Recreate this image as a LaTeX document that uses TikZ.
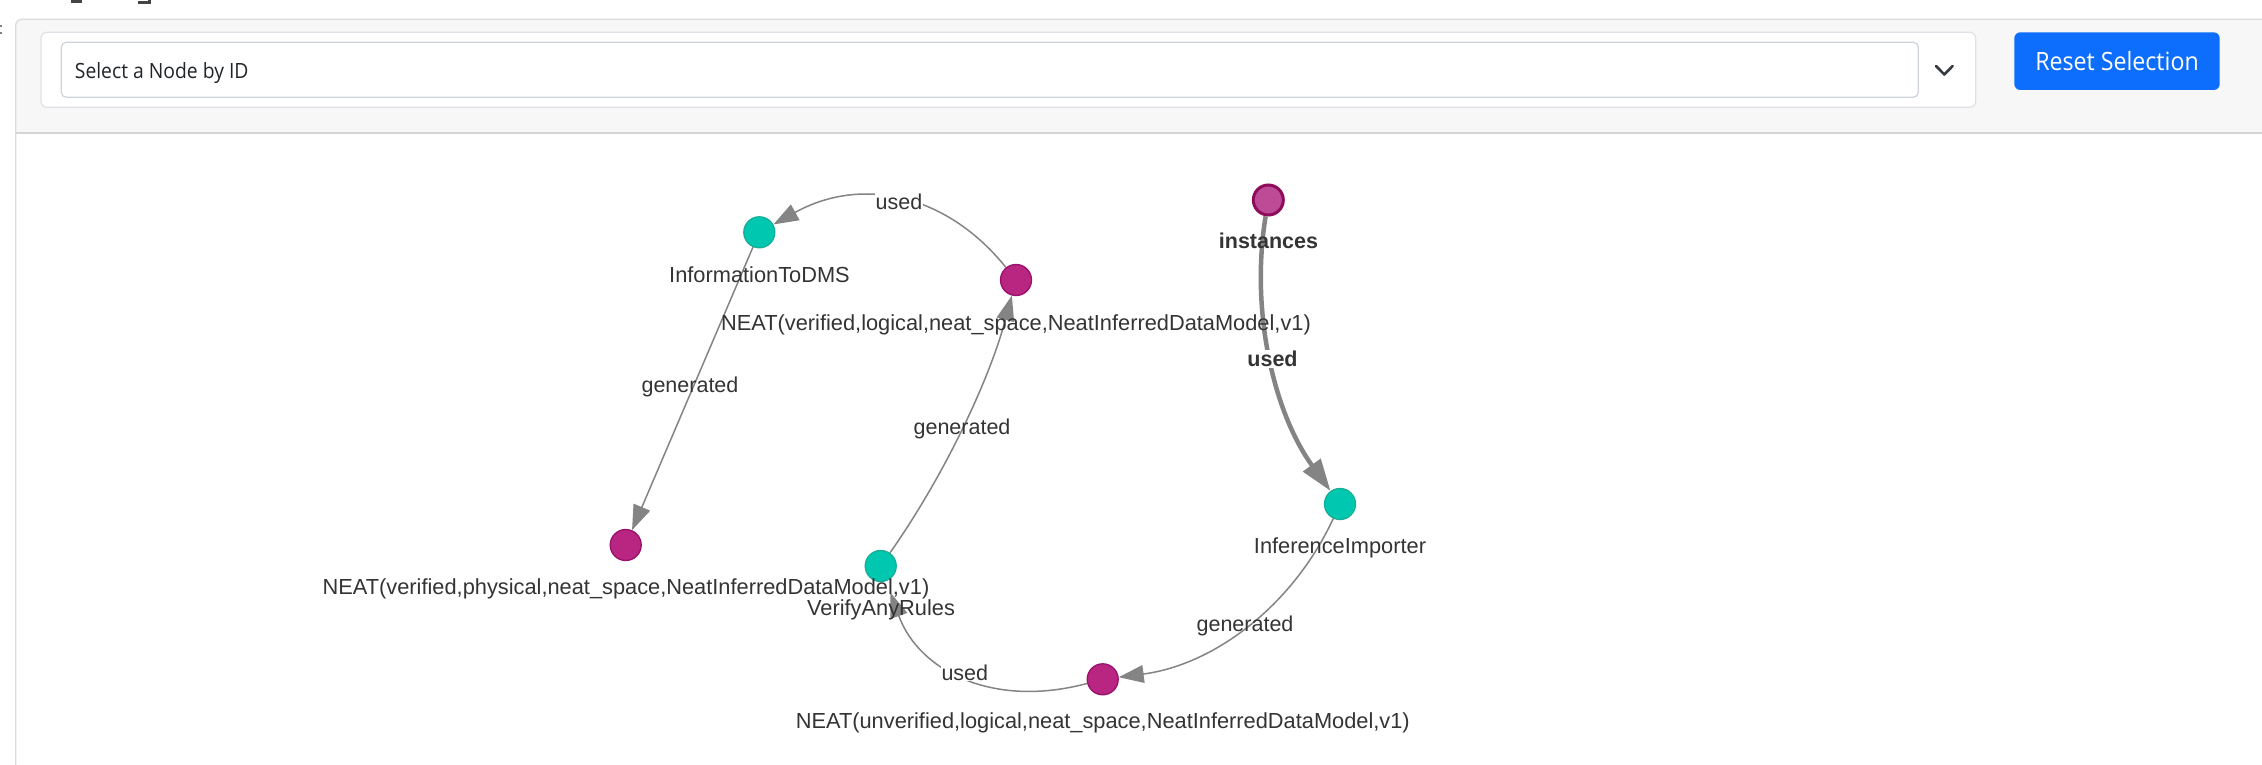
\documentclass[tikz,border=0pt]{standalone}
\usepackage{fontspec}
\setmainfont{Liberation Sans}
\newfontfamily\uifont[FakeStretch=0.92]{Open Sans}
\usetikzlibrary{arrows.meta,calc}
\definecolor{headerbg}{HTML}{F7F7F7}
\definecolor{panelborder}{HTML}{DCDCDC}
\definecolor{headerline}{HTML}{D4D4D4}
\definecolor{boxborder}{HTML}{DEE2E6}
\definecolor{selectborder}{HTML}{CED4DA}
\definecolor{uitext}{HTML}{212529}
\definecolor{chevron}{HTML}{343A40}
\definecolor{btnblue}{HTML}{0D6EFD}
\definecolor{tealfill}{HTML}{00C8B0}
\definecolor{tealborder}{HTML}{17AE98}
\definecolor{magfill}{HTML}{B82682}
\definecolor{magborder}{HTML}{98116A}
\definecolor{selfill}{HTML}{BE4B96}
\definecolor{selborder}{HTML}{8E0C5C}
\definecolor{edgegray}{HTML}{848484}
\definecolor{labelgray}{HTML}{343434}
\definecolor{fraggray}{HTML}{444444}
\begin{document}
\begin{tikzpicture}[x=1pt,y=-1pt,
  tealnode/.style={circle, fill=tealfill, draw=tealborder, line width=1.3pt, minimum size=31pt, inner sep=0pt},
  magnode/.style={circle, fill=magfill, draw=magborder, line width=1.3pt, minimum size=31pt, inner sep=0pt},
  selnode/.style={circle, fill=selfill, draw=selborder, line width=3pt, minimum size=30pt, inner sep=0pt},
  nlabel/.style={anchor=base, inner sep=0pt, text=labelgray, font=\fontsize{21.8}{26}\selectfont},
  elabel/.style={anchor=base, inner sep=0pt, text=labelgray, font=\fontsize{21.5}{26}\selectfont},
  elabelbg/.style={elabel, fill=white, inner sep=1pt},
  edgeline/.style={draw=edgegray, line width=1.5pt, -{Triangle[length=25pt,width=17.7pt]}},
  thickedge/.style={draw=edgegray, line width=4.5pt, -{Triangle[length=32pt,width=21pt]}}
]
\useasboundingbox (0,0) rectangle (2262,765);
\clip (0,0) rectangle (2262,765);
\fill[white] (0,0) rectangle (2262,765);

% cut-off fragments at the top left
\fill[fraggray] (70.7,0) rectangle (81.7,3);
\fill[fraggray] (138,0.8) rectangle (150,3.6);
\fill[fraggray] (148,0) rectangle (150.5,3.6);
\fill[gray] (0,25) rectangle (1.7,27.5);
\fill[gray] (0,32) rectangle (1.7,34.5);

% panel
\fill[headerbg, rounded corners=6pt] (15.7,19.3) rectangle (2320,160);
\fill[white] (15.7,134) rectangle (2320,800);
\draw[panelborder, line width=1.3pt, rounded corners=6pt] (15.7,800) -- (15.7,19.3) -- (2320,19.3);
\draw[headerline, line width=2pt] (15.7,133.3) -- (2262,133.3);

% select box
\draw[boxborder, fill=white, rounded corners=6pt, line width=1.2pt] (41,32.3) rectangle (1975.7,107.3);
\draw[selectborder, fill=white, rounded corners=5pt, line width=1.2pt] (61.3,42.3) rectangle (1918.3,97.3);
\node[anchor=base west, inner sep=0pt, text=uitext, font=\uifont\fontsize{21}{25}\selectfont] (selecttext) at (74.7,78.3) {Select a Node by ID};
\draw[chevron, line width=2.6pt, line cap=round, line join=round] (1936,66) -- (1944.3,74.5) -- (1952.6,66);

% button
\node[fill=btnblue, rounded corners=6pt, minimum width=205.4pt, minimum height=57.7pt, inner sep=0pt,
      text=white, font=\uifont\fontsize{25.2}{30}\selectfont] (resetbtn) at (2117,61.15) {Reset Selection};

% graph nodes
\node[tealnode] (infodms) at (759.3,232.3) {};
\node[magnode] (neatlog) at (1016,280) {};
\node[selnode] (inst) at (1268.3,200) {};
\node[tealnode] (infimp) at (1340,504) {};
\node[magnode] (neatphys) at (625.7,545) {};
\node[tealnode] (verify) at (880.7,566) {};
\node[magnode] (neatunv) at (1102.7,679.3) {};

% control points (quadratic via points)
\coordinate (cusedtop) at (910.35,148.45);
\coordinate (cthick) at (1240.85,367.4);
\coordinate (cgenver) at (975.65,431);
\coordinate (cgenimp) at (1268.65,657.75);
\coordinate (cusedbot) at (937.9,723.35);

% edges
\draw[edgeline] (neatlog) .. controls ($(neatlog)!0.6667!(cusedtop)$) and ($(infodms)!0.6667!(cusedtop)$) .. (infodms);
\draw[edgeline] (infodms) -- (neatphys);
\draw[edgeline] (verify) .. controls ($(verify)!0.6667!(cgenver)$) and ($(neatlog)!0.6667!(cgenver)$) .. (neatlog);
\draw[thickedge] (inst) .. controls ($(inst)!0.6667!(cthick)$) and ($(infimp)!0.6667!(cthick)$) .. (infimp);
\draw[edgeline] (infimp) .. controls ($(infimp)!0.6667!(cgenimp)$) and ($(neatunv)!0.6667!(cgenimp)$) .. (neatunv);
\draw[edgeline, shorten >=12pt] (neatunv) .. controls ($(neatunv)!0.6667!(cusedbot)$) and ($(verify)!0.6667!(cusedbot)$) .. (verify);

% edge labels
\node[elabelbg] (lusedtop) at (899,209.3) {used};
\node[elabel] (lgenphys) at (690,392) {generated};
\node[elabel] (lgenver) at (962,434) {generated};
\node[elabelbg, font=\bfseries\fontsize{21.5}{26}\selectfont] (lusedthick) at (1272.5,366.7) {used};
\node[elabel] (lgenimp) at (1245,631.7) {generated};
\node[elabelbg] (lusedbot) at (964.8,680) {used};

% node labels
\node[nlabel] (tinfodms) at (759.5,282) {InformationToDMS};
\node[nlabel] (tneatlog) at (1016,330) {NEAT(verified,logical,neat\_space,NeatInferredDataModel,v1)};
\node[nlabel, font=\bfseries\fontsize{21.5}{26}\selectfont] (tinst) at (1268.5,248.3) {instances};
\node[nlabel] (tinfimp) at (1340,553.3) {InferenceImporter};
\node[nlabel] (tneatphys) at (626,594.3) {NEAT(verified,physical,neat\_space,NeatInferredDataModel,v1)};
\node[nlabel] (tverify) at (881,615) {VerifyAnyRules};
\node[nlabel] (tneatunv) at (1102.8,728.3) {NEAT(unverified,logical,neat\_space,NeatInferredDataModel,v1)};
\end{tikzpicture}
\end{document}
